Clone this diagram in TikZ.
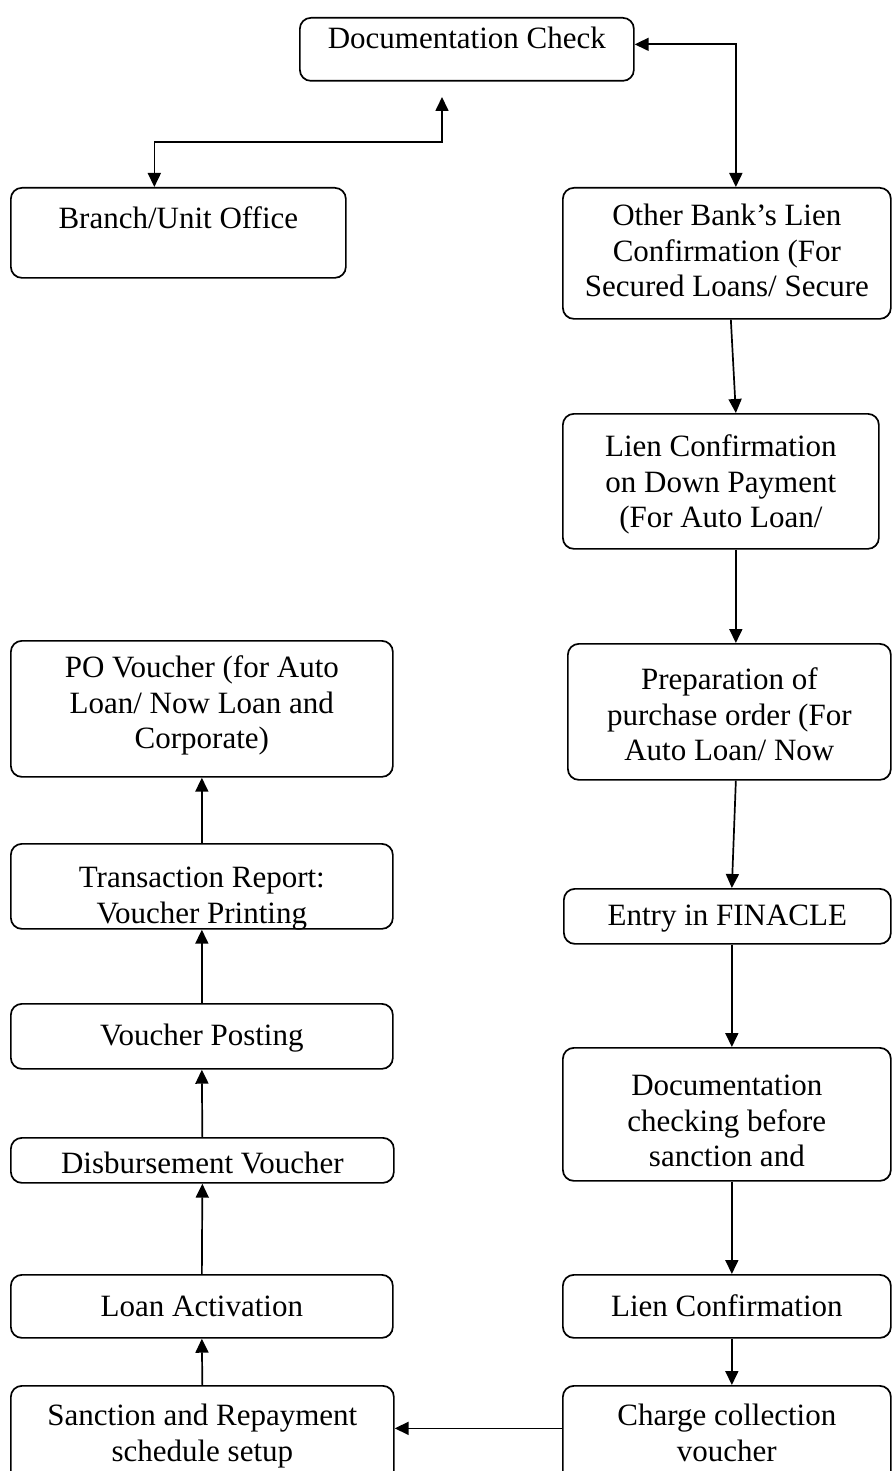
\documentclass[tikz,border=0pt]{standalone}
\usepackage{fontspec}
\setmainfont{Liberation Serif}
\usetikzlibrary{arrows.meta}
% text of a box: width, height, space above the first line, lines
\newcommand{\boxtext}[4]{\parbox[c][#2][t]{#1}{\centering\vspace*{#3}\strut #4}}
\tikzset{
	->, % every connector is directed
	>={Triangle[length=14pt,width=13pt]}, % solid triangle heads
	x=1pt, y=-1pt, % one unit is one pixel, y runs downwards
	flow/.style={draw, rounded corners=11pt, inner sep=0pt, anchor=north west,
		font=\fontsize{31}{35.5}\selectfont}, % every process box
}
\begin{document}
\begin{tikzpicture}[line width=1.7pt]
	\useasboundingbox (0,0) rectangle (892,1471);
	% right column
	\node[flow] (check) at (299,17) {\boxtext{334pt}{63pt}{6pt}{Documentation Check}};
	\node[flow] (branch) at (10,187) {\boxtext{335pt}{90pt}{16pt}{Branch/Unit Office}};
	\node[flow] (otherlien) at (562,187) {\boxtext{328pt}{131pt}{13pt}{Other Bank’s Lien\\Confirmation (For\\Secured Loans/ Secure}};
	\node[flow] (downlien) at (562,413) {\boxtext{316pt}{135pt}{18pt}{Lien Confirmation\\on Down Payment\\(For Auto Loan/}};
	\node[flow] (purchase) at (567,643) {\boxtext{323pt}{136pt}{21pt}{Preparation of\\purchase order (For\\Auto Loan/ Now}};
	\node[flow] (finacle) at (563,888) {\boxtext{327pt}{55pt}{12pt}{Entry in FINACLE}};
	\node[flow] (doccheck) at (562,1047) {\boxtext{328pt}{133pt}{23pt}{Documentation\\checking before\\sanction and}};
	\node[flow] (lienconf) at (562,1274) {\boxtext{328pt}{63pt}{17pt}{Lien Confirmation}};
	\node[flow] (charge) at (562,1385) {\boxtext{328pt}{115pt}{15pt}{Charge collection\\voucher}};
	% left column
	\node[flow] (povoucher) at (10,640) {\boxtext{382pt}{136pt}{12pt}{PO Voucher (for Auto\\Loan/ Now Loan and\\Corporate)}};
	\node[flow] (report) at (10,843) {\boxtext{382pt}{85pt}{19pt}{Transaction Report:\\Voucher Printing}};
	\node[flow] (posting) at (10,1003) {\boxtext{382pt}{65pt}{17pt}{Voucher Posting}};
	\node[flow] (disburse) at (10,1137) {\boxtext{383pt}{45pt}{11pt}{Disbursement Voucher}};
	\node[flow] (activation) at (10,1274) {\boxtext{382pt}{63pt}{17pt}{Loan Activation}};
	\node[flow] (sanction) at (10,1385) {\boxtext{383pt}{115pt}{15pt}{Sanction and Repayment\\schedule setup}};
	\coordinate (checkin) at (442,97);
	% connectors
	\draw[<->] ([yshift=5pt]check.east) -| ([xshift=9pt]otherlien.north);
	\draw[<->] (checkin) -- ++(0,45) -| ([xshift=-24pt]branch.north);
	\path	([xshift=4pt]otherlien.south) edge ([xshift=15pt]downlien.north)
			([xshift=15pt]downlien.south) edge ([xshift=6.5pt]purchase.north)
			([xshift=6.5pt]purchase.south) edge ([xshift=4.5pt]finacle.north)
			([xshift=4.5pt]finacle.south) edge ([xshift=5pt]doccheck.north)
			([xshift=5pt]doccheck.south) edge ([xshift=5pt]lienconf.north)
			([xshift=5pt]lienconf.south) edge ([xshift=5pt]charge.north)
			([yshift=15pt]charge.west) edge ([yshift=15pt]sanction.east)
			(sanction.north) edge (activation.south)
			(activation.north) edge (disburse.south)
			(disburse.north) edge (posting.south)
			(posting.north) edge (report.south)
			(report.north) edge (povoucher.south);
\end{tikzpicture}
\end{document}
